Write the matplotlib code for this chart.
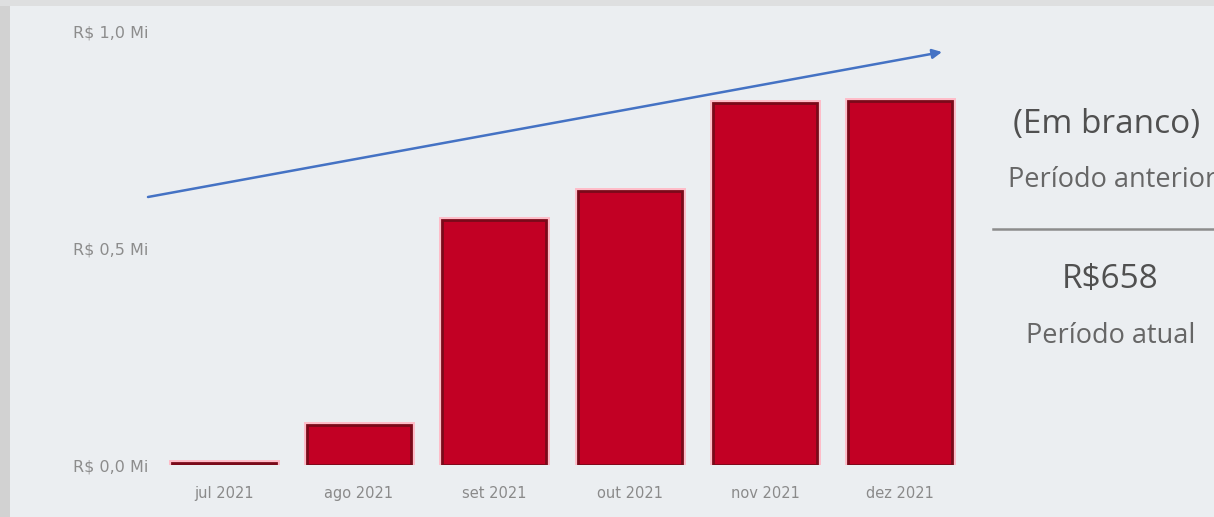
import matplotlib
matplotlib.use("Agg")
import matplotlib.pyplot as plt
from matplotlib.patches import Rectangle

# ---- data ----
months = ["jul 2021", "ago 2021", "set 2021", "out 2021", "nov 2021", "dez 2021"]
values_mi = [0.004, 0.092, 0.566, 0.633, 0.836, 0.840]
y_ticks = [0.0, 0.5, 1.0]
y_tick_labels = ["R$ 0,0 Mi", "R$ 0,5 Mi", "R$ 1,0 Mi"]
card_title = "(Em branco)"
card_title_sub = "Período anterior"
card_value = "R$658"
card_value_sub = "Período atual"

W, H = 1214, 517
fig = plt.figure(figsize=(W / 100, H / 100), dpi=100)
fig.patch.set_facecolor("#ebeef1")

# frame strips
fig.patches.append(Rectangle((0, 0), 10 / W, 1, transform=fig.transFigure,
                             facecolor="#d2d2d2", edgecolor="none", zorder=0))
fig.patches.append(Rectangle((0, 1 - 6 / H), 1, 6 / H, transform=fig.transFigure,
                             facecolor="#dedfe0", edgecolor="none", zorder=0))

# axes in pixel layout
left, right = 156, 968
bottom_px, top_px = 465, 32  # from top
ax = fig.add_axes([left / W, 1 - bottom_px / H, (right - left) / W, (bottom_px - top_px) / H])
ax.set_facecolor("none")
for s in ax.spines.values():
    s.set_visible(False)

x = list(range(len(months)))
ax.bar(x, values_mi, width=0.77, color="#c20024", edgecolor="#ffbcc8", linewidth=5.0, zorder=2)
ax.bar(x, values_mi, width=0.77, color="#c20024", edgecolor="#7a0a1a", linewidth=2.0, zorder=3)
ax.set_xlim(-0.5, len(months) - 0.5)
ax.set_ylim(0, 1.0)

ax.set_xticks(x)
ax.set_xticklabels(months, fontsize=10.5, color="#8a8a8a")
ax.tick_params(axis="x", length=0, pad=15)
ax.set_yticks(y_ticks)
ax.set_yticklabels(y_tick_labels, fontsize=11.5, color="#8c8c8c")
ax.tick_params(axis="y", length=0, pad=60)
for lab in ax.get_yticklabels():
    lab.set_horizontalalignment("left")

# overlay in pixel coordinates for annotation and card
ov = fig.add_axes([0, 0, 1, 1], zorder=5)
ov.set_axis_off()
ov.set_xlim(0, W)
ov.set_ylim(H, 0)
ov.annotate("", xy=(942, 52), xytext=(148, 197),
            arrowprops=dict(arrowstyle="-|>", color="#4472c4", lw=1.8,
                            mutation_scale=14, shrinkA=0, shrinkB=0))

ov.text(1107, 124, card_title, fontsize=24, color="#505050", ha="center", va="center",
        family="Open Sans")
ov.text(1008, 180, card_title_sub, fontsize=19.5, color="#666666", ha="left", va="center",
        family="Open Sans", clip_on=True)
ov.plot([993, 1214], [229, 229], color="#8c8c8c", lw=1.8)
ov.text(1110, 279, card_value, fontsize=24, color="#505050", ha="center", va="center",
        family="Open Sans")
ov.text(1111, 336, card_value_sub, fontsize=19.5, color="#666666", ha="center", va="center",
        family="Open Sans")

fig.savefig("out.png", dpi=100, facecolor=fig.get_facecolor())
